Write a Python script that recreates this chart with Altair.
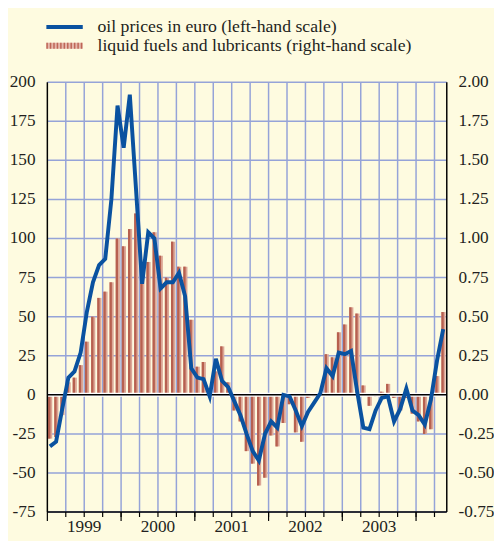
import altair as alt
import pandas as pd

# ---- data (monthly, Jan 1999 - May 2004) ----
months = list(range(65))
oil = [
    -33, -30, -9, 11, 15, 27, 53, 72, 83, 87, 125, 185,
    158, 192, 132, 71, 104, 100, 68, 72, 72, 78, 63, 17,
    11, 10, -1, 23, 9, 5, -4, -13, -25, -36, -42, -25,
    -17, -21, 0, -1, -10, -20, -11, -5, 1, 17, 12, 27,
    26, 28, 2, -21, -22, -10, -2, -1, -17, -9, 4, -10,
    -13, -19, -3, 22, 42,
]
fuel = [
    -0.28, -0.27, -0.13, 0.08, 0.11, 0.19, 0.34, 0.50, 0.62, 0.66, 0.72, 1.00,
    0.95, 1.06, 1.16, 0.78, 0.85, 1.04, 0.89, 0.75, 0.98, 0.82, 0.82, 0.48,
    0.18, 0.21, 0.01, 0.15, 0.31, 0.08, -0.10, -0.17, -0.36, -0.44, -0.58, -0.53,
    -0.26, -0.33, -0.18, -0.06, -0.24, -0.30, -0.02, -0.01, 0.01, 0.26, 0.24, 0.40,
    0.45, 0.56, 0.52, 0.06, -0.07, -0.01, 0.02, 0.07, -0.02, -0.10, -0.02, -0.12,
    -0.17, -0.25, -0.22, 0.12, 0.53,
]
years = ["1999", "2000", "2001", "2002", "2003"]
year_mid = [6, 18, 30, 42, 54]
year_start = [0, 12, 24, 36, 48, 60]
quarters = list(range(3, 64, 3))
left_ticks = list(range(-75, 201, 25))
right_ticks = [v / 100 for v in left_ticks]
left_labels = [str(v) for v in left_ticks]
right_labels = ["%.2f" % v for v in right_ticks]
legend_labels = ["oil prices in euro (left-hand scale)",
                 "liquid fuels and lubricants (right-hand scale)"]

RATIO = 100  # right-hand scale = left-hand scale / 100
df = pd.DataFrame({"m": months, "oil": oil, "fuel": fuel})
df["xl"] = df["m"] + 0.12
df["xd"] = df["m"] + 0.5
df["xr"] = df["m"] + 0.8
df["xm"] = df["m"] + 0.42
df["fy"] = df["fuel"] * RATIO
df["z0"] = 0

W, H = 406, 437
FONT = "Liberation Serif, Times New Roman, Times, serif"
FS = 17.5
TXT = "#231F20"
GRID = "#95A3D8"
BLUE = "#0A52A0"
BAR_LIGHT = "#DCA797"
BAR_DARK = "#B7604F"
BG = "#FEFBE0"

xs = alt.Scale(domain=[0, 65], nice=False, zero=False)
ys = alt.Scale(domain=[-75, 200], nice=False, zero=False)


def X(f):
    return alt.X(f, scale=xs, axis=None)


def Y(f):
    return alt.Y(f, scale=ys, axis=None)


zero_df = pd.DataFrame({"z": [0]})
one = pd.DataFrame({"a": [0]})

# grid
vgrid = alt.Chart(pd.DataFrame({"q": quarters})).mark_rule(
    color=GRID, strokeWidth=1.5).encode(x=X("q:Q"))
hgrid = alt.Chart(pd.DataFrame({"v": left_ticks})).mark_rule(
    color=GRID, strokeWidth=1.5).encode(y=Y("v:Q"))

# bars (right-hand scale)
light = alt.Chart(df).mark_rect(color=BAR_LIGHT).encode(
    x=X("xl:Q"), x2="xr:Q", y=Y("fy:Q"), y2="z0:Q")
dark = alt.Chart(df).mark_rect(color=BAR_DARK).encode(
    x=X("xl:Q"), x2="xd:Q", y=Y("fy:Q"), y2="z0:Q")

zero_white = alt.Chart(zero_df).mark_rule(color="white", strokeWidth=4).encode(
    y=Y("z:Q"))
zero_black = alt.Chart(zero_df).mark_rule(color="black", strokeWidth=1.5).encode(
    y=Y("z:Q"))

# line (left-hand scale)
line = alt.Chart(df).mark_line(color=BLUE, strokeWidth=4).encode(
    x=X("xm:Q"), y=Y("oil:Q"))

# axis frames
left_dom = alt.Chart(one).mark_rule(color="black", strokeWidth=1.5).encode(
    x=alt.value(0), x2=alt.value(0), y=alt.value(0), y2=alt.value(H))
right_dom = alt.Chart(one).mark_rule(color="black", strokeWidth=1.5).encode(
    x=alt.value(W), x2=alt.value(W), y=alt.value(0), y2=alt.value(H))
bottom_dom = alt.Chart(one).mark_rule(color="black", strokeWidth=1.5).encode(
    x=alt.value(0), x2=alt.value(W), y=alt.value(H), y2=alt.value(H))
minor = alt.Chart(pd.DataFrame({"q": quarters})).mark_rule(
    color="black", strokeWidth=1.2).encode(
    x=X("q:Q"), y=alt.value(H), y2=alt.value(H + 5))
major = alt.Chart(pd.DataFrame({"ys": year_start})).mark_rule(
    color="black", strokeWidth=1.2).encode(
    x=X("ys:Q"), y=alt.value(H), y2=alt.value(H + 9))

# tick labels
ylab = alt.Chart(pd.DataFrame({"mid": year_mid, "year": years})).mark_text(
    font=FONT, fontSize=FS, baseline="top", color=TXT).encode(
    x=X("mid:Q"), y=alt.value(H + 6), text="year:N")
llab = alt.Chart(pd.DataFrame({"v": left_ticks, "t": left_labels})).mark_text(
    font=FONT, fontSize=FS, align="right", baseline="middle", color=TXT).encode(
    x=alt.value(-12), y=Y("v:Q"), text="t:N")
rlab = alt.Chart(pd.DataFrame({"ry": [r * RATIO for r in right_ticks],
                               "t": right_labels})).mark_text(
    font=FONT, fontSize=FS, align="left", baseline="middle", color=TXT).encode(
    x=alt.value(W + 12), y=Y("ry:Q"), text="t:N")

# legend
leg1 = alt.Chart(one).mark_rule(color=BLUE, strokeWidth=4).encode(
    x=alt.value(-1), x2=alt.value(36), y=alt.value(-56))
leg2a = alt.Chart(one).mark_rule(color="#E6B8AC", strokeWidth=6).encode(
    x=alt.value(-1), x2=alt.value(36), y=alt.value(-37))
leg2b = alt.Chart(one).mark_rule(color="#BE6656", strokeWidth=6,
                                 strokeDash=[1.5, 2]).encode(
    x=alt.value(-1), x2=alt.value(36), y=alt.value(-37))
t1 = alt.Chart(pd.DataFrame({"t": [legend_labels[0]]})).mark_text(
    align="left", baseline="middle", font=FONT, fontSize=18, color=TXT).encode(
    x=alt.value(51), y=alt.value(-56), text="t:N")
t2 = alt.Chart(pd.DataFrame({"t": [legend_labels[1]]})).mark_text(
    align="left", baseline="middle", font=FONT, fontSize=18, color=TXT).encode(
    x=alt.value(51), y=alt.value(-37), text="t:N")

chart = alt.layer(
    vgrid, hgrid, light, dark, zero_white, zero_black, line,
    left_dom, right_dom, bottom_dom, minor, major,
    ylab, llab, rlab, leg1, leg2a, leg2b, t1, t2,
).properties(
    width=W, height=H,
    autosize=alt.AutoSizeParams(type="none"),
    padding={"left": 40, "top": 71, "right": 48, "bottom": 25},
    background=BG,
).configure_view(stroke=None)

chart.save("out.html", embed_options={"renderer": "svg", "actions": False})
